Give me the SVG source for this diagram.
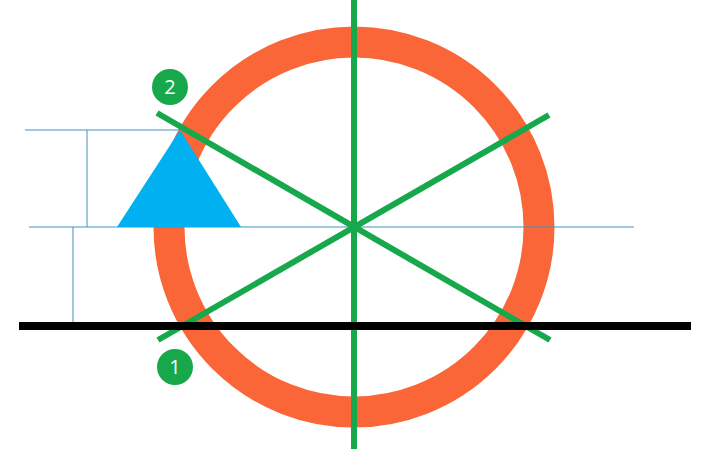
<svg xmlns="http://www.w3.org/2000/svg" width="705" height="449" viewBox="0 0 705 449">
<style>
.dim{stroke:#3F93C0;stroke-width:1;fill:none}
.axis{stroke:#17A84C;stroke-width:6;stroke-linecap:butt}
.badge{fill:#17A84C}
.lbl{fill:#fff;font-family:"Open Sans","Liberation Sans",sans-serif;font-size:20px;text-anchor:middle}
</style>
<rect width="705" height="449" fill="#fff"/>
<g id="ring"><circle cx="354" cy="227" r="185" fill="none" stroke="#FA6638" stroke-width="31"/></g>
<g id="connectors">
<line class="dim" x1="25" y1="130" x2="180" y2="130"/>
<line class="dim" x1="29" y1="227" x2="634" y2="227"/>
<line class="dim" x1="87" y1="130" x2="87" y2="227"/>
<line class="dim" x1="73" y1="227" x2="73" y2="326"/>
</g>
<g id="triangle"><polygon points="180,130 117,227 241,227" fill="#00B0F0"/></g>
<g id="axes">
<line class="axis" x1="354" y1="0" x2="354" y2="449"/>
<line class="axis" x1="157" y1="113" x2="550" y2="340"/>
<line class="axis" x1="158" y1="340" x2="549" y2="115"/>
</g>
<g id="ground"><line x1="19" y1="326" x2="691" y2="326" stroke="#000" stroke-width="8"/></g>
<g id="label2"><circle class="badge" cx="170" cy="87" r="18"/><text class="lbl" x="170" y="94">2</text></g>
<g id="label1"><circle class="badge" cx="175" cy="367" r="18"/><text class="lbl" x="175" y="374">1</text></g>
</svg>
